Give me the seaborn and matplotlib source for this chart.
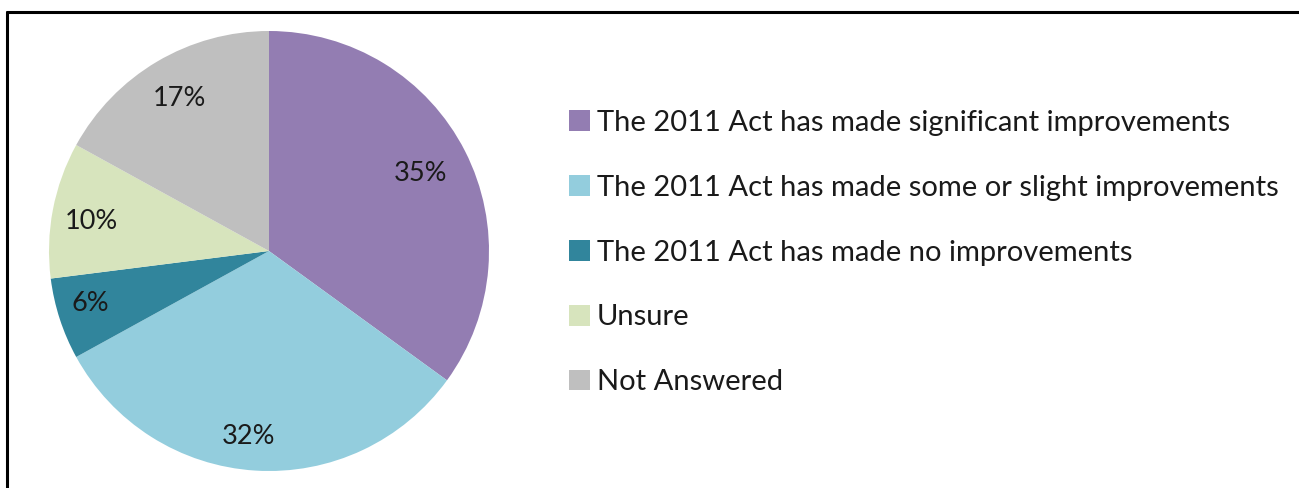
import matplotlib
matplotlib.use("Agg")
import matplotlib.pyplot as plt
from matplotlib.lines import Line2D
from matplotlib.patches import Patch
import numpy as np
import seaborn as sns

categories = [
    "The 2011 Act has made significant improvements",
    "The 2011 Act has made some or slight improvements",
    "The 2011 Act has made no improvements",
    "Unsure",
    "Not Answered",
]
shares = [35, 32, 6, 10, 17]
colors = ["#937DB2", "#93CDDD", "#31859C", "#D7E4BD", "#BFBFBF"]

# label placement inside slices: radial distance and small angular nudge (deg)
label_radius = [0.78, 0.837, 0.845, 0.818, 0.813]
label_nudge = [0.8, -2.9, -2.4, 0.6, -0.7]

sns.set_theme(style="white")
plt.rcParams["font.family"] = ["Lato", "DejaVu Sans"]

W, H = 1299, 488
fig = plt.figure(figsize=(W / 100, H / 100), dpi=100)
fig.patch.set_facecolor("white")

# pie axes: centre (269, 251), radius 220 px
cx, cy, r = 269, 251, 220
ax = fig.add_axes([(cx - r) / W, (H - cy - r) / H, 2 * r / W, 2 * r / H])
wedges, _ = ax.pie(
    shares,
    colors=colors,
    startangle=90,
    counterclock=False,
    radius=1.0,
    wedgeprops=dict(linewidth=0),
)
ax.set_xlim(-1, 1)
ax.set_ylim(-1, 1)
ax.set_aspect("equal")
ax.axis("off")

# percentage labels inside each slice
angle = 90.0
for val, rad, nudge in zip(shares, label_radius, label_nudge):
    mid = np.deg2rad(angle - val * 3.6 / 2 + nudge)
    angle -= val * 3.6
    ax.text(rad * np.cos(mid), rad * np.sin(mid) - 0.012, f"{val}%",
            ha="center", va="center", fontsize=19.5, color="#1a1a1a")

# legend
handles = [Patch(facecolor=c, edgecolor="none") for c in colors]
leg = fig.legend(
    handles, categories,
    loc="upper left",
    bbox_to_anchor=(569 / W, 1 - 110 / H),
    frameon=False,
    fontsize=21,
    handlelength=0.72,
    handleheight=0.72,
    handletextpad=0.24,
    labelspacing=1.33,
    borderaxespad=0,
    borderpad=0,
)
for t in leg.get_texts():
    t.set_color("#1a1a1a")

# outer frame (top and left edges visible)
fig.add_artist(Line2D([7 / W, 7 / W], [0, 1 - 12 / H], transform=fig.transFigure,
                      color="black", linewidth=2.2))
fig.add_artist(Line2D([7 / W, 1], [1 - 12 / H, 1 - 12 / H], transform=fig.transFigure,
                      color="black", linewidth=2.2))

fig.savefig("out.png", dpi=100, facecolor="white")
